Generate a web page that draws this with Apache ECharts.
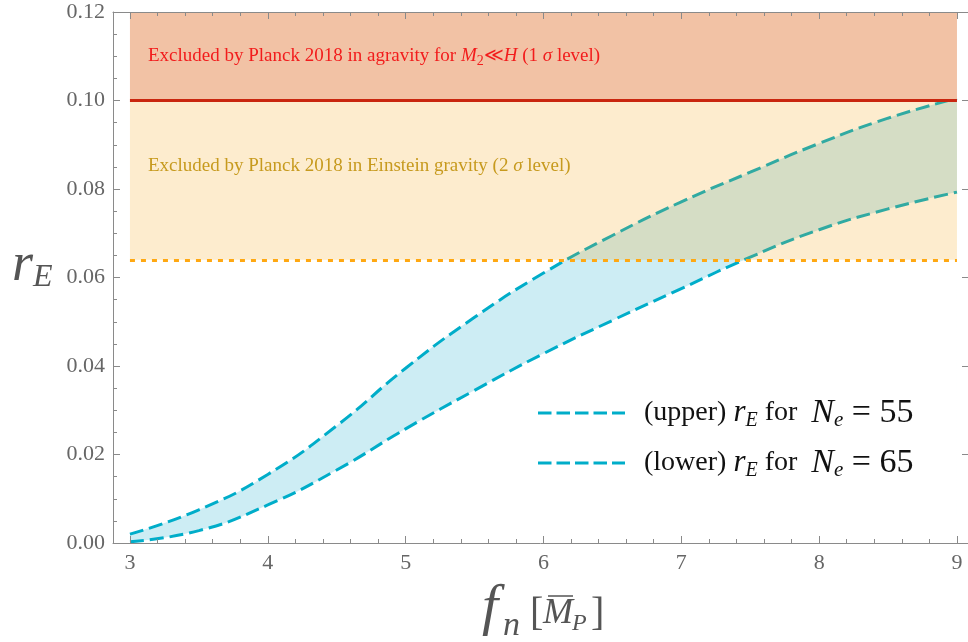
<!DOCTYPE html>
<html>
<head>
<meta charset="utf-8">
<script src="https://cdn.jsdelivr.net/npm/echarts@6/dist/echarts.min.js"></script>
<style>
html, body { margin: 0; padding: 0; background: #fff; }
#chart { width: 968px; height: 642px; }
</style>
</head>
<body>
<div id="chart"></div>
<script>
// f_n in units of the reduced Planck mass
var fn = [3, 3.5, 4, 4.5, 5, 5.5, 6, 6.5, 7, 7.5, 8, 8.5, 9];
// r_E for N_e = 55 (upper curve) and N_e = 65 (lower curve)
var rUpper = [0.0020, 0.0075, 0.0155, 0.0265, 0.0395, 0.0510, 0.0610, 0.0695, 0.0771, 0.0838, 0.0903, 0.0960, 0.1005];
var rLower = [0.0003, 0.0028, 0.0086, 0.0165, 0.0258, 0.0345, 0.0428, 0.0503, 0.0575, 0.0646, 0.0708, 0.0755, 0.0793];
// axis ticks
var xTicks = [3, 4, 5, 6, 7, 8, 9];
var yTicks = [0, 0.02, 0.04, 0.06, 0.08, 0.10, 0.12];
// Planck 2018 bounds
var boundAgravity = 0.10;   // 1 sigma, agravity
var boundEinstein = 0.064;  // 2 sigma, Einstein gravity
var yTop = 0.12;

var serif = '"Liberation Serif", "DejaVu Serif", serif';
var axisGray = '#8a8a8a';
var curveBlue = '#00adc9';
var xMin = 2.877, xMax = 9.08;

// minor x ticks every 0.2
var xMinor = [];
for (var t = 3; t < 9; t += 0.2) {
  var v = Math.round(t * 10) / 10;
  if (v % 1 !== 0) xMinor.push(v);
}

var myChart = echarts.init(document.getElementById('chart'));

function xAx(pos, ticks, len, withLabel, line) {
  return {
    type: 'value', position: pos, min: xMin, max: xMax, z: 10,
    axisLine: { show: line, onZero: false, lineStyle: { color: axisGray, width: 1 } },
    splitLine: { show: false },
    axisTick: { show: true, inside: true, length: len, customValues: ticks, lineStyle: { color: axisGray } },
    axisLabel: withLabel ? { show: true, customValues: ticks, margin: 9, color: '#666', fontFamily: serif, fontSize: 22 } : { show: false }
  };
}

function legendText(tag, n) {
  return '{n|(' + tag + ') }{i|r}{s|E}{n| for  }{b|N}{t|e}{u| = ' + n + '}';
}
var legendRich = {
  n: { fontFamily: serif, fontSize: 28, lineHeight: 36, fill: '#111' },
  i: { fontFamily: serif, fontSize: 31, lineHeight: 36, fontStyle: 'italic', fill: '#111' },
  s: { fontFamily: serif, fontSize: 20, lineHeight: 20, fontStyle: 'italic', verticalAlign: 'bottom', fill: '#111' },
  b: { fontFamily: serif, fontSize: 34, lineHeight: 36, fontStyle: 'italic', fill: '#111' },
  t: { fontFamily: serif, fontSize: 21, lineHeight: 20, fontStyle: 'italic', verticalAlign: 'bottom', fill: '#111' },
  u: { fontFamily: serif, fontSize: 34, lineHeight: 36, fill: '#111' }
};

var option = {
  animation: false,
  backgroundColor: '#fff',
  grid: { left: 113, right: 0, top: 12, bottom: 99, containLabel: false, outerBoundsMode: 'none' },
  xAxis: [
    xAx('bottom', xTicks, 7, true, true),
    xAx('bottom', xMinor, 4, false, false),
    xAx('top', xTicks, 7, false, true),
    xAx('top', xMinor, 4, false, false)
  ],
  yAxis: [
    {
      type: 'value', position: 'left', min: 0, max: yTop, interval: 0.02, z: 10,
      axisLine: { show: true, onZero: false, lineStyle: { color: axisGray } },
      splitLine: { show: false },
      axisTick: { inside: true, length: 7, lineStyle: { color: axisGray } },
      minorTick: { show: true, splitNumber: 4, length: 4, lineStyle: { color: axisGray } },
      axisLabel: { margin: 8, color: '#666', fontFamily: serif, fontSize: 22,
        formatter: function (v) { return v.toFixed(2); } }
    },
    {
      type: 'value', position: 'right', min: 0, max: yTop, interval: 0.02, z: 10,
      axisLine: { show: false, onZero: false },
      splitLine: { show: false },
      axisTick: { inside: true, length: 6, lineStyle: { color: axisGray } },
      axisLabel: { show: false }
    }
  ],
  series: [
    // band between the curves: blue under the upper curve, white under the lower one
    {
      name: 'bandTop', type: 'line', smooth: true, symbol: 'none', silent: true, z: 1,
      lineStyle: { opacity: 0 },
      areaStyle: { color: '#cdedf4', opacity: 1 },
      data: fn.map(function (x, i) { return [x, rUpper[i]]; })
    },
    {
      name: 'bandBottom', type: 'line', smooth: true, symbol: 'none', silent: true, z: 1,
      lineStyle: { opacity: 0 },
      areaStyle: { color: '#ffffff', opacity: 1 },
      data: fn.map(function (x, i) { return [x, rLower[i]]; })
    },
    {
      name: 'upper', type: 'line', smooth: true, symbol: 'none', z: 3,
      lineStyle: { color: curveBlue, width: 3, type: [14, 6] },
      data: fn.map(function (x, i) { return [x, rUpper[i]]; })
    },
    {
      name: 'lower', type: 'line', smooth: true, symbol: 'none', z: 3,
      lineStyle: { color: curveBlue, width: 3, type: [14, 6] },
      data: fn.map(function (x, i) { return [x, rLower[i]]; })
    },
    {
      name: 'bounds', type: 'line', data: [], z: 4,
      markArea: {
        silent: true, z: 4,
        data: [
          [{ coord: [3, boundEinstein], itemStyle: { color: 'rgba(245,160,10,0.2)' } }, { coord: [9, boundAgravity] }],
          [{ coord: [3, boundAgravity], itemStyle: { color: '#f2c2a5' } }, { coord: [9, yTop] }]
        ]
      },
      markLine: {
        silent: true, symbol: ['none', 'none'], z: 5,
        label: { show: false },
        data: [
          [{ coord: [3, boundAgravity], lineStyle: { color: '#c9260f', width: 3, type: 'solid' } }, { coord: [9, boundAgravity] }],
          [{ coord: [3, boundEinstein], lineStyle: { color: '#ffa812', width: 3, type: [5, 6] } }, { coord: [9, boundEinstein] }]
        ]
      }
    }
  ],
  graphic: [
    {
      type: 'text', x: 148, y: 56, z: 20,
      style: {
        text: '{n|Excluded by Planck 2018 in agravity for }{i|M}{s|2}{n|≪}{i|H}{n| (1 }{i|σ}{n| level)}',
        verticalAlign: 'middle',
        rich: {
          n: { fontFamily: serif, fontSize: 19, lineHeight: 24, fill: '#f21c1c' },
          i: { fontFamily: serif, fontSize: 19, lineHeight: 24, fontStyle: 'italic', fill: '#f21c1c' },
          s: { fontFamily: serif, fontSize: 14, lineHeight: 16, verticalAlign: 'bottom', fill: '#f21c1c' }
        }
      }
    },
    {
      type: 'text', x: 148, y: 166, z: 20,
      style: {
        text: '{n|Excluded by Planck 2018 in Einstein gravity (2 }{i|σ}{n| level)}',
        verticalAlign: 'middle',
        rich: {
          n: { fontFamily: serif, fontSize: 19, lineHeight: 24, fill: '#c79a1e' },
          i: { fontFamily: serif, fontSize: 19, lineHeight: 24, fontStyle: 'italic', fill: '#c79a1e' }
        }
      }
    },
    // legend
    { type: 'line', z: 20, shape: { x1: 538, y1: 413, x2: 625, y2: 413 },
      style: { stroke: curveBlue, lineWidth: 3, lineDash: [13.5, 5] } },
    { type: 'line', z: 20, shape: { x1: 538, y1: 463, x2: 625, y2: 463 },
      style: { stroke: curveBlue, lineWidth: 3, lineDash: [13.5, 5] } },
    { type: 'text', x: 644, y: 413, z: 20,
      style: { text: legendText('upper', 55), verticalAlign: 'middle', rich: legendRich } },
    { type: 'text', x: 644, y: 463, z: 20,
      style: { text: legendText('lower', 65), verticalAlign: 'middle', rich: legendRich } },
    // y axis title r_E
    {
      type: 'text', x: 12, y: 266, z: 20,
      style: {
        text: '{r|r}{e|E}',
        verticalAlign: 'middle',
        rich: {
          r: { fontFamily: serif, fontSize: 54, lineHeight: 56, fontStyle: 'italic', fill: '#555' },
          e: { fontFamily: serif, fontSize: 32, lineHeight: 28, fontStyle: 'italic', verticalAlign: 'bottom', fill: '#555' }
        }
      }
    },
    // x axis title f_n [M_P]
    { type: 'text', x: 482, y: 609, z: 20, style: { text: 'f', font: 'italic 58px ' + serif, fill: '#555', verticalAlign: 'middle' } },
    { type: 'text', x: 503, y: 626, z: 20, style: { text: 'n', font: 'italic 34px ' + serif, fill: '#555', verticalAlign: 'middle' } },
    { type: 'text', x: 530, y: 614, z: 20, style: { text: '[', font: '40px ' + serif, fill: '#555', verticalAlign: 'middle' } },
    { type: 'text', x: 543, y: 614, z: 20, style: { text: 'M', font: 'italic 36px ' + serif, fill: '#555', verticalAlign: 'middle' } },
    { type: 'text', x: 572, y: 624, z: 20, style: { text: 'P', font: 'italic 24px ' + serif, fill: '#555', verticalAlign: 'middle' } },
    { type: 'text', x: 591, y: 614, z: 20, style: { text: ']', font: '40px ' + serif, fill: '#555', verticalAlign: 'middle' } },
    { type: 'line', z: 20, shape: { x1: 548, y1: 596, x2: 573, y2: 596 }, style: { stroke: '#555', lineWidth: 1.5 } }
  ]
};

myChart.setOption(option);
</script>
</body>
</html>
